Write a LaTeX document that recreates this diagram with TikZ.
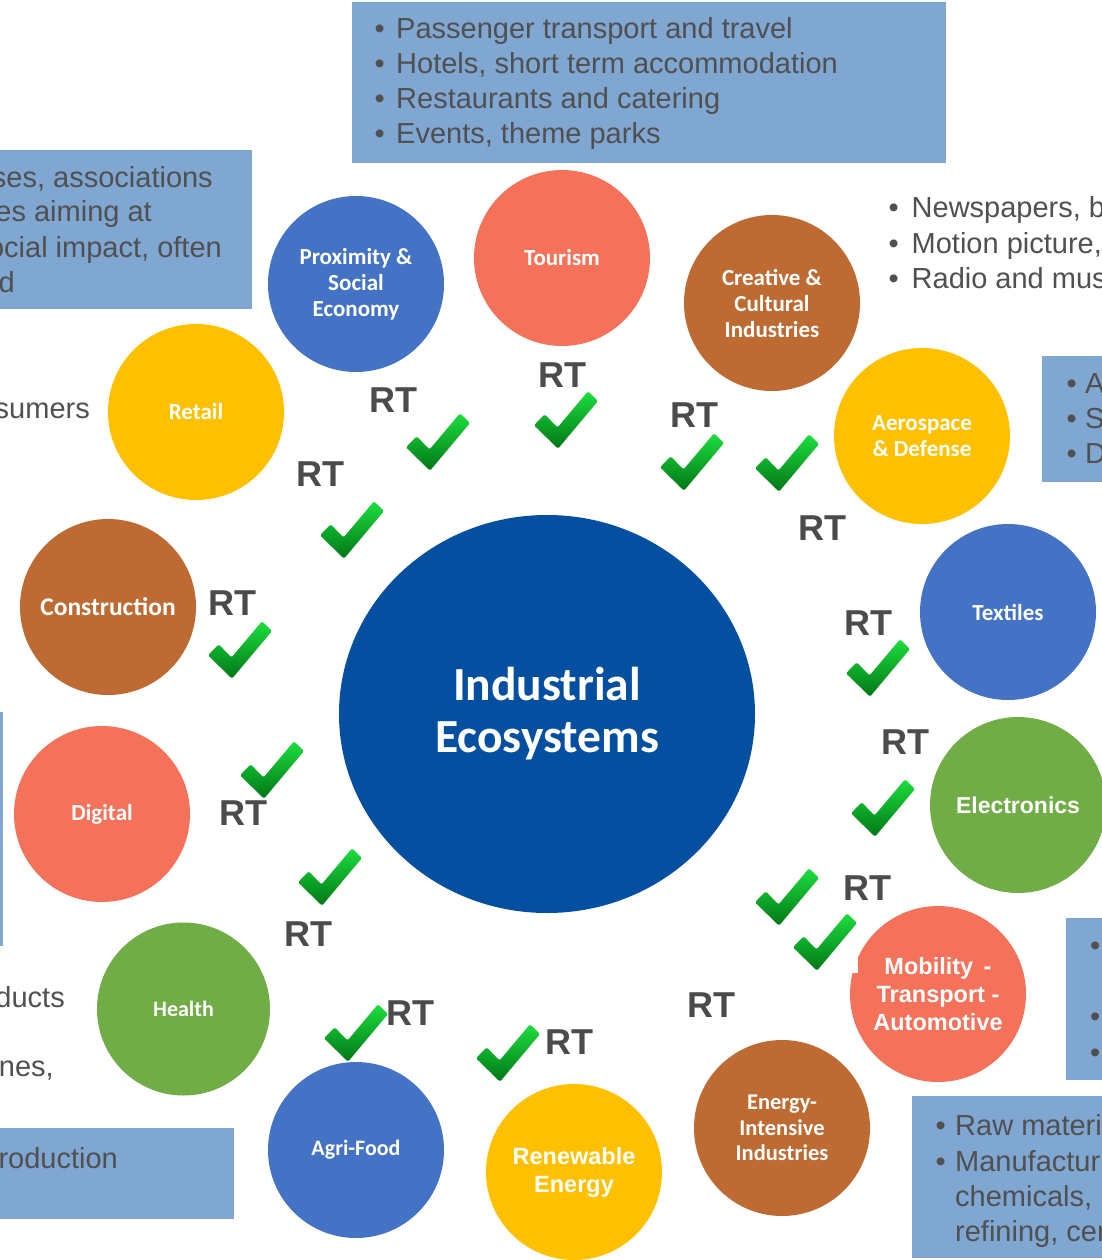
\documentclass[tikz,border=0pt]{standalone}
\usepackage{fontspec}
\setmainfont{Liberation Sans}
\newfontfamily\carl{Carlito}
\newfontfamily\lib{Liberation Sans}
\usetikzlibrary{shapes.geometric}
\definecolor{cblue}{HTML}{4472C4}
\definecolor{ccoral}{HTML}{F4715A}
\definecolor{cbrown}{HTML}{BD6B32}
\definecolor{cyellow}{HTML}{FFC000}
\definecolor{cgreen}{HTML}{70AD47}
\definecolor{ccenter}{HTML}{054FA1}
\definecolor{cbox}{HTML}{80A6D2}
\definecolor{cgray}{HTML}{505050}
\definecolor{crt}{HTML}{4B4B4B}
\definecolor{tickhi}{RGB}{30,222,62}
\definecolor{ticklo}{RGB}{0,118,22}
\newcommand{\bul}[1]{\makebox[#1][l]{\textbullet}}
\begin{document}
\begin{tikzpicture}[x=1pt,y=-1pt,
  circnode/.style={circle, minimum size=176pt, inner sep=0pt, text=white, align=center,
    font=\carl\bfseries\fontsize{23}{26}\selectfont},
  arialcirc/.style={circnode, font=\lib\bfseries\fontsize{23.5}{28}\selectfont},
  rtlabel/.style={inner sep=0pt, text=crt, font=\lib\bfseries\fontsize{36}{40}\selectfont},
  boxfill/.style={fill=cbox},
  boxtext/.style={inner sep=0pt, anchor=base west, text=cgray, font=\lib\fontsize{29}{35}\selectfont},
  boxtextr/.style={boxtext, anchor=base east},
  tick/.pic={\shade[top color=tickhi, bottom color=ticklo, rounded corners=1.5pt]
    (-32,5.3) -- (-21.3,-5.7) -- (-8.5,7.5) -- (22,-28.7) -- (32,-19) -- (-8,28.7) -- cycle;}
]
\useasboundingbox (0,0) rectangle (1102,1260);
\fill[white] (0,0) rectangle (1102,1260);

% ---------- boxes ----------
\fill[boxfill] (352,2) rectangle (946,163);
\fill[boxfill] (-2,150) rectangle (252,309);
\fill[boxfill] (-2,712) rectangle (3,946);
\fill[boxfill] (-2,1128) rectangle (234,1219);
\fill[boxfill] (1042,356) rectangle (1104,482);
\fill[boxfill] (1066,918) rectangle (1104,1080);
\fill[boxfill] (912,1096) rectangle (1104,1258);

% top box
\node[boxtext] (t1) at (374.5,39) {\bul{21.5pt}Passenger transport and travel};
\node[boxtext] (t2) at (374.5,74) {\bul{21.5pt}Hotels, short term accommodation};
\node[boxtext] (t3) at (374.5,109) {\bul{21.5pt}Restaurants and catering};
\node[boxtext] (t4) at (374.5,144) {\bul{21.5pt}Events, theme parks};

% left fragments
\node[boxtextr] (l1) at (213,187) {ses, associations};
\node[boxtextr] (l2) at (152,222) {es aiming at};
\node[boxtextr] (l3) at (222,257) {ocial impact, often};
\node[boxtextr] (l4) at (15,292) {d};
\node[boxtextr] (l5) at (90,418) {sumers};
\node[boxtextr] (l6) at (65,1007) {ducts};
\node[boxtextr] (l7) at (54,1076) {nes,};
\node[boxtextr] (l8) at (118,1168) {roduction};

% right fragments
\node[boxtext] (r1) at (888.5,217) {\bul{23pt}Newspapers, b};
\node[boxtext] (r2) at (888.5,253) {\bul{23pt}Motion picture,};
\node[boxtext] (r3) at (888.5,288) {\bul{23pt}Radio and mus};
\node[boxtext] (r4) at (1066.5,393) {\bul{18.5pt}A};
\node[boxtext] (r5) at (1066.5,428) {\bul{18.5pt}S};
\node[boxtext] (r6) at (1066.5,463) {\bul{18.5pt}D};
\node[boxtext] (r7) at (1090,955) {\textbullet};
\node[boxtext] (r8) at (1090,1026) {\textbullet};
\node[boxtext] (r9) at (1090,1062) {\textbullet};
\node[boxtext] (r10) at (935.5,1135) {\bul{19.5pt}Raw materi};
\node[boxtext] (r11) at (935.5,1171) {\bul{19.5pt}Manufacturi};
\node[boxtext] (r12) at (955,1206) {chemicals,};
\node[boxtext] (r13) at (955,1241) {refining, cer};

% ---------- central ----------
\node[ellipse, fill=ccenter, minimum width=416pt, minimum height=398pt, inner sep=0pt,
  text=white, align=center, font=\carl\bfseries\fontsize{47.5}{52}\selectfont]
  (eco) at (547,714) {Industrial\\Ecosystems};

% ---------- circles ----------
\node[circnode, fill=cblue]   (prox) at (356,284)  {Proximity \&\\Social\\Economy};
\node[circnode, fill=ccoral]  (tour) at (562,258)  {Tourism};
\node[circnode, fill=cbrown]  (crea) at (772,303)  {Creative \&\\Cultural\\Industries};
\node[circnode, fill=cyellow] (aero) at (922,436)  {Aerospace\\\& Defense};
\node[circnode, fill=cyellow] (reta) at (196,412)  {Retail};
\node[circnode, fill=cbrown, font=\carl\bfseries\fontsize{25.5}{28}\selectfont] (cons) at (108,607) {Construction};
\node[circnode, fill=cblue]   (texl) at (1008,612) {Textiles};
\node[arialcirc, fill=cgreen, font=\lib\bfseries\fontsize{23}{28}\selectfont] (elec) at (1018,805) {Electronics};
\node[circnode, fill=ccoral]  (digi) at (102,814)  {Digital};
\node[arialcirc, fill=ccoral] (mobi) at (938,994)  {Mobility \,-\\Transport -\\Automotive};
\node[circnode, fill=cgreen, minimum size=173pt, font=\carl\bfseries\fontsize{22}{26}\selectfont] (heal) at (183.5,1009) {Health};
\node[circnode, fill=cblue, font=\carl\bfseries\fontsize{22}{26}\selectfont] (agri) at (356,1150) {Agri-Food};
\node[arialcirc, fill=cyellow] (rene) at (574,1172) {Renewable\\Energy};
\node[circnode, fill=cbrown, font=\carl\bfseries\fontsize{22.5}{25.5}\selectfont] (ener) at (782,1128) {Energy-\\Intensive\\Industries};

% white corner of the tick picture over the mobility circle
\fill[white] (848,955) rectangle (858,973);

% ---------- RT labels ----------
\node[rtlabel] (rt1)  at (393,400)  {RT};
\node[rtlabel] (rt2)  at (562,375)  {RT};
\node[rtlabel] (rt3)  at (694,415)  {RT};
\node[rtlabel] (rt4)  at (822,528)  {RT};
\node[rtlabel] (rt5)  at (320,474)  {RT};
\node[rtlabel] (rt6)  at (232,603)  {RT};
\node[rtlabel] (rt7)  at (868,623)  {RT};
\node[rtlabel] (rt8)  at (905,742)  {RT};
\node[rtlabel] (rt9)  at (243,813)  {RT};
\node[rtlabel] (rt10) at (308,934)  {RT};
\node[rtlabel] (rt11) at (867,888)  {RT};
\node[rtlabel] (rt12) at (711,1005) {RT};
\node[rtlabel] (rt13) at (410,1013) {RT};
\node[rtlabel] (rt14) at (569,1042) {RT};

% ---------- ticks ----------
\foreach \p in {(438,442),(566,420),(692,462),(787,463),(352,530),(240,650),(878,668),
  (883,808),(272,770),(330,877),(787,897),(825,942),(356,1033),(508,1053)}
  \pic at \p {tick};
\end{tikzpicture}
\end{document}
